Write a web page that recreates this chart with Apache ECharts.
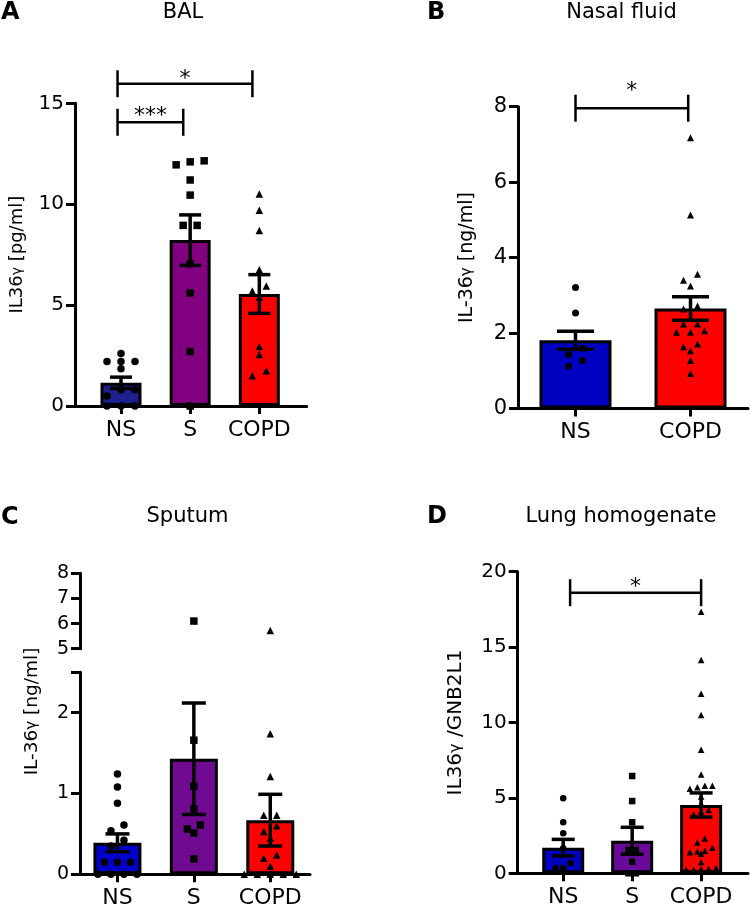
<!DOCTYPE html>
<html>
<head>
<meta charset="utf-8">
<script src="https://cdn.jsdelivr.net/npm/echarts@6/dist/echarts.min.js"></script>
<style>
html, body { margin: 0; padding: 0; background: #fff; }
#fig { width: 750px; height: 907px; }
</style>
</head>
<body>
<div id="fig"></div>
<script>
const cats3 = ['NS', 'S', 'COPD'];
const cats2 = ['NS', 'COPD'];

// A - BAL, IL36γ [pg/ml]
const balNS = [2.6, 2.2, 2.2, 2.2, 1.85, 0.8, 0.8, 0.5, 0, 0, 0];
const balS = [12.15, 12.1, 11.95, 11.2, 10.45, 8.95, 8.95, 7.05, 5.6, 2.7, 0];
const balCOPD = [10.5, 9.7, 8.7, 6.75, 5.95, 5.7, 5.4, 2.95, 2.55, 1.75, 1.5];
const balMean = [1.15, 8.22, 5.55];
const balSem = [0.28, 1.25, 0.96];
// [from, to, bracket height, star height]
const balSig = [[-0.05, 0.9, 14.06, 14.38], [-0.05, 1.9, 15.97, 16.2]];
const balSigText = ['***', '*'];

// B - nasal fluid, IL-36γ [ng/ml]
const nasalNS = [3.21, 2.53, 1.6, 1.43, 1.27, 1.12];
const nasalCOPD = [7.18, 5.13, 3.56, 3.4, 3.25, 2.72, 2.64, 2.24, 2.24, 2.06, 2.02, 2.02, 1.71, 1.64, 1.53, 1.27, 0.93];
const nasalMean = [1.81, 2.65];
const nasalSem = [0.24, 0.31];
const nasalSig = [[0, 0.98, 7.96, 8.42]];
const nasalSigText = ['*'];

// C - sputum, IL-36γ [ng/ml] (broken axis 2.5 .. 5)
const sputNS = [1.24, 1.08, 0.88, 0.61, 0.54, 0.42, 0.35, 0.15, 0.15, 0.15, 0, 0, 0, 0];
const sputS = [6.1, 1.66, 1.09, 0.81, 0.61, 0.56, 0.51, 0.19];
const sputCOPD = [5.72, 1.74, 1.21, 0.73, 0.73, 0.6, 0.53, 0.45, 0.24, 0.2, 0.1, 0, 0, 0, 0, 0];
const sputMean = [0.39, 1.43, 0.67];
const sputSem = [0.11, 0.69, 0.32];

// D - lung homogenate, IL36γ / GNB2L1
const lungNS = [4.97, 3.38, 2.65, 1.66, 0.66, 0.35, 0.33, 0.2];
const lungS = [6.45, 4.79, 3.38, 1.55, 1.55, 0.77, 0, 0];
const lungCOPD = [17.35, 14.15, 11.9, 10.5, 8.2, 6.55, 5.8, 5.8, 5.7, 5.6, 5.1, 4.65, 4.2, 4.1, 3.9,
  2.3, 2.05, 1.7, 1.5, 1.45, 1.4, 1.3, 0.75, 0.35, 0.3, 0.3, 0.25, 0.25];
const lungMean = [1.7, 2.16, 4.53];
const lungSem = [0.55, 0.89, 0.8];
const lungSig = [[0.1, 2.0, 18.61, 18.95]];
const lungSigText = ['*'];

const FONT = 'DejaVu Sans';
const INK = '#000';
const SYM3 = ['circle', 'rect', 'triangle'];
const SYM2 = ['circle', 'triangle'];

const option = { animation: false, grid: [], xAxis: [], yAxis: [], series: [], graphic: [] };

function addGrid(box, xAxis, yAxis) {
  const i = option.grid.length;
  option.grid.push(Object.assign({ containLabel: false, outerBoundsMode: 'none' }, box));
  option.xAxis.push(Object.assign({ gridIndex: i }, xAxis));
  option.yAxis.push(Object.assign({ gridIndex: i }, yAxis));
  return i;
}

function catAxis(cats, min, max, fontSize) {
  const ticks = cats.map((c, i) => i);
  return {
    type: 'value', min: min, max: max,
    axisLine: { show: true, onZero: false, lineStyle: { color: INK, width: 3 } },
    axisTick: { show: true, customValues: ticks, length: 8, lineStyle: { color: INK, width: 3 } },
    axisLabel: { show: true, customValues: ticks, formatter: v => cats[Math.round(v)],
      color: INK, fontFamily: FONT, fontSize: fontSize, margin: 13 },
    splitLine: { show: false }
  };
}

function numAxis(min, max, interval, fontSize, name, nameSize, nameGap) {
  return {
    type: 'value', min: min, max: max, interval: interval,
    name: name, nameLocation: 'middle', nameGap: nameGap,
    nameTextStyle: { color: INK, fontFamily: FONT, fontSize: nameSize,
      rich: { g: { color: INK, fontFamily: FONT, fontSize: Math.round(nameSize * 0.8) } } },
    axisLine: { show: true, onZero: false, lineStyle: { color: INK, width: 3 } },
    axisTick: { show: true, length: 9, lineStyle: { color: INK, width: 3 } },
    axisLabel: { color: INK, fontFamily: FONT, fontSize: fontSize, margin: 11 },
    splitLine: { show: false }
  };
}

// rows of near-equal values are spread symmetrically around the group centre
function swarm(vals, pxPerUnit, step, tolPx) {
  const order = vals.map((v, i) => i).sort((a, b) => vals[b] - vals[a]);
  const out = new Array(vals.length);
  let row = [];
  const flush = () => {
    row.reverse().forEach((idx, k) => { out[idx] = (k - (row.length - 1) / 2) * step; });
    row = [];
  };
  order.forEach(i => {
    if (row.length && (vals[row[0]] - vals[i]) * pxPerUnit > tolPx) flush();
    row.push(i);
  });
  flush();
  return out;
}

function pxPerUnit(gi) {
  const y = option.yAxis[gi];
  return option.grid[gi].height / (y.max - y.min);
}

function barSeries(gi, mean, colors, barWidth) {
  return {
    type: 'bar', xAxisIndex: gi, yAxisIndex: gi, barWidth: barWidth, z: 2,
    itemStyle: { borderColor: INK, borderWidth: 3 },
    data: mean.map((m, i) => ({ value: [i, m], itemStyle: { color: colors[i] } }))
  };
}

function dotSeries(gi, groups, symbols, size, stepPx, tolPx) {
  const x = option.xAxis[gi];
  const step = stepPx * (x.max - x.min) / option.grid[gi].width;
  const ppu = pxPerUnit(gi);
  const data = [];
  groups.forEach((vals, g) => {
    const off = swarm(vals, ppu, step, tolPx);
    vals.forEach((v, k) => data.push({ value: [g + off[k], v], symbol: symbols[g] }));
  });
  return { type: 'scatter', xAxisIndex: gi, yAxisIndex: gi, z: 3, symbolSize: size,
    clip: false, itemStyle: { color: INK, opacity: 1 }, data: data };
}

function errSeries(gi, mean, sem, cap) {
  return {
    type: 'custom', xAxisIndex: gi, yAxisIndex: gi, z: 4,
    data: mean.map((m, i) => [i, m, sem[i]]),
    renderItem: (params, api) => {
      const x = api.value(0), m = api.value(1), s = api.value(2);
      const hi = api.coord([x, m + s]), lo = api.coord([x, m - s]);
      const st = { stroke: INK, lineWidth: 3.5 };
      return { type: 'group', children: [
        { type: 'line', shape: { x1: hi[0], y1: hi[1], x2: lo[0], y2: lo[1] }, style: st },
        { type: 'line', shape: { x1: hi[0] - cap / 2, y1: hi[1], x2: hi[0] + cap / 2, y2: hi[1] }, style: st },
        { type: 'line', shape: { x1: lo[0] - cap / 2, y1: lo[1], x2: lo[0] + cap / 2, y2: lo[1] }, style: st }
      ] };
    }
  };
}

function sigSeries(gi, sig, texts) {
  const half = 13.5;
  return {
    type: 'custom', xAxisIndex: gi, yAxisIndex: gi, z: 5, clip: false,
    data: sig,
    renderItem: (params, api) => {
      const a = api.coord([api.value(0), api.value(2)]);
      const b = api.coord([api.value(1), api.value(2)]);
      const s = api.coord([(api.value(0) + api.value(1)) / 2, api.value(3)]);
      const st = { stroke: INK, lineWidth: 2.5 };
      return { type: 'group', children: [
        { type: 'line', shape: { x1: a[0], y1: a[1], x2: b[0], y2: b[1] }, style: st },
        { type: 'line', shape: { x1: a[0], y1: a[1] - half, x2: a[0], y2: a[1] + half }, style: st },
        { type: 'line', shape: { x1: b[0], y1: b[1] - half, x2: b[0], y2: b[1] + half }, style: st },
        { type: 'text', x: s[0], y: s[1], style: { text: texts[params.dataIndex], fill: INK,
          fontFamily: FONT, fontSize: 22, align: 'center', verticalAlign: 'middle' } }
      ] };
    }
  };
}

// A
const gA = addGrid({ left: 75, top: 103.3, width: 231.7, height: 302.7 },
  catAxis(cats3, -0.665, 2.685, 22), numAxis(0, 15, 5, 20, 'IL36{g|γ} [pg/ml]', 18, 49));
option.series.push(
  barSeries(gA, balMean, ['#1c1f8c', '#800080', '#ff0000'], 41),
  dotSeries(gA, [balNS, balS, balCOPD], SYM3, 7.5, 14, 7),
  errSeries(gA, balMean, balSem, 22),
  sigSeries(gA, balSig, balSigText)
);

// B
const gB = addGrid({ left: 518, top: 106.7, width: 230, height: 301.8 },
  catAxis(cats2, -0.5, 1.5, 22), numAxis(0, 8, 2, 21, 'IL-36{g|γ} [ng/ml]', 19, 41));
option.series.push(
  barSeries(gB, nasalMean, ['#0000c0', '#ff0000'], 72),
  dotSeries(gB, [nasalNS, nasalCOPD], SYM2, 7, 14, 6.5),
  errSeries(gB, nasalMean, nasalSem, 37),
  sigSeries(gB, nasalSig, nasalSigText)
);

// C: lower segment, upper segment, and a bare axis carrying the shared name
const sputGroups = [sputNS, sputS, sputCOPD];
const lowC = numAxis(0, 2.5, 1, 19, '', 17, 0);
lowC.axisTick.customValues = [0, 1, 2, 2.5];
lowC.axisLabel.customValues = [0, 1, 2];
const gC = addGrid({ left: 80, top: 672.3, width: 230, height: 202 }, catAxis(cats3, -0.49, 2.52, 22), lowC);
const gCu = addGrid({ left: 80, top: 573.3, width: 230, height: 75.4 },
  { type: 'value', min: -0.49, max: 2.52, show: false }, numAxis(5, 8, 1, 19, '', 17, 0));
const nameC = numAxis(0, 1, 1, 17, 'IL-36{g|γ} [ng/ml]', 18.5, 38);
nameC.axisLine.show = false;
nameC.axisTick.show = false;
nameC.axisLabel.show = false;
addGrid({ left: 80, top: 549, width: 230, height: 325 }, { type: 'value', min: 0, max: 1, show: false }, nameC);
option.series.push(
  barSeries(gC, sputMean, ['#0000c8', '#700a90', '#ff0000'], 48),
  dotSeries(gC, sputGroups.map(g => g.filter(v => v < 2.5)), SYM3, 7.5, 13, 7),
  dotSeries(gCu, sputGroups.map(g => g.filter(v => v >= 5)), SYM3, 7.5, 13, 7),
  errSeries(gC, sputMean, sputSem, 24)
);

// D
const gD = addGrid({ left: 517.7, top: 571.7, width: 230.3, height: 301.6 },
  catAxis(cats3, -0.66, 2.68, 22), numAxis(0, 20, 5, 20, 'IL36{g|γ} /GNB2L1', 20, 52));
option.series.push(
  barSeries(gD, lungMean, ['#0000c0', '#6a0a9a', '#ff0000'], 42),
  dotSeries(gD, [lungNS, lungS, lungCOPD], SYM3, 6.5, 7.5, 5.5),
  errSeries(gD, lungMean, lungSem, 23),
  sigSeries(gD, lungSig, lungSigText)
);

// panel titles and letters
const titles = [['BAL', 183, 13], ['Nasal fluid', 621.5, 13], ['Sputum', 187.5, 517], ['Lung homogenate', 621, 517]];
const letters = [['A', 1, 13], ['B', 427, 13], ['C', 1, 517.5], ['D', 427, 517]];
titles.forEach(t => option.graphic.push({ type: 'text', x: t[1], y: t[2],
  style: { text: t[0], fill: INK, fontFamily: FONT, fontSize: 21, align: 'center', verticalAlign: 'middle' } }));
letters.forEach(t => option.graphic.push({ type: 'text', x: t[1], y: t[2],
  style: { text: t[0], fill: INK, fontFamily: FONT, fontSize: 24, fontWeight: 'bold', align: 'left', verticalAlign: 'middle' } }));

const chart = echarts.init(document.getElementById('fig'));
chart.setOption(option);
</script>
</body>
</html>
